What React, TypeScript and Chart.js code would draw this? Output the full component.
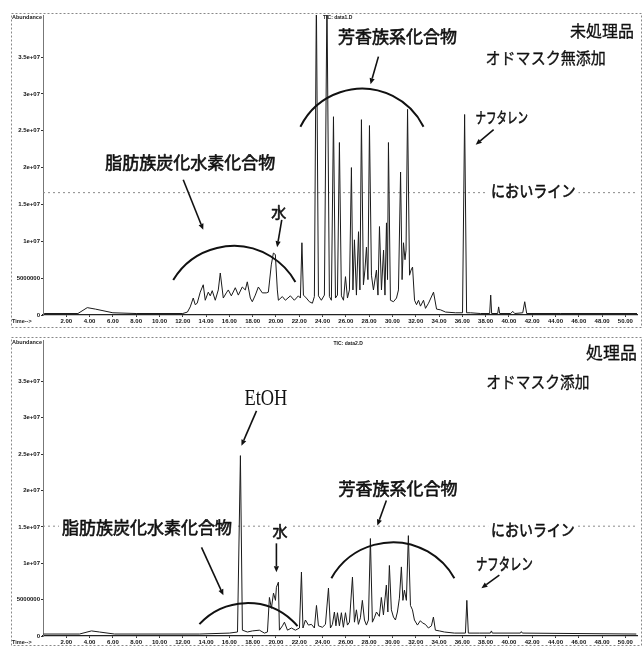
import React, { useEffect, useRef } from 'react';
import { Chart, registerables } from 'chart.js';
Chart.register(...registerables);

// ---------- data (retention time in min, abundance in millions) ----------
const TOP_TIME = [
  0.1, 3.0, 3.8, 4.5, 6.0, 8.0, 12.0, 12.4, 12.64, 12.9, 13.07, 13.24, 13.5, 13.76, 13.93, 14.19, 14.36, 14.53,
  14.79, 15.05, 15.22, 15.48, 15.74, 15.91, 16.17, 16.51, 16.77, 17.11, 17.37, 17.54, 17.8, 17.97, 18.23, 18.49,
  18.83, 19.17, 19.35, 19.6, 19.78, 19.95, 20.12, 20.21, 20.55, 20.81, 21.24, 21.58, 21.93, 22.1, 22.23, 22.36,
  22.61, 22.87, 23.13, 23.3, 23.47, 23.65, 23.9, 24.16, 24.38, 24.59, 24.76, 24.94, 25.11, 25.28, 25.45, 25.62,
  25.8, 25.97, 26.14, 26.31, 26.48, 26.61, 26.74, 26.91, 27.09, 27.21, 27.34, 27.51, 27.64, 27.77, 27.9, 28.03,
  28.2, 28.37, 28.63, 28.76, 28.89, 29.06, 29.24, 29.36, 29.49, 29.58, 29.66, 29.83, 30.09, 30.35, 30.52, 30.7,
  30.83, 30.95, 31.08, 31.17, 31.3, 31.47, 31.6, 31.73, 31.9, 32.07, 32.24, 32.41, 32.67, 32.84, 33.1, 33.53,
  33.79, 34.13, 34.56, 35.42, 36.02, 36.2, 36.37, 36.71, 37.57, 38.35, 38.44, 38.52, 39.04, 39.12, 39.21, 40.16,
  40.33, 40.5, 41.19, 41.36, 41.53, 44.46, 51.0,
];
const TOP_ABUND_M = [
  0.2, 0.2, 1.0, 0.8, 0.3, 0.2, 0.2, 0.4, 1.1, 2.3, 1.4, 1.6, 3.1, 4.1, 2.0, 3.1, 2.6, 3.3,
  2.0, 3.4, 5.7, 2.3, 3.0, 3.4, 2.6, 3.7, 2.7, 3.8, 3.4, 4.5, 2.3, 1.8, 2.7, 3.8,
  3.0, 3.0, 3.1, 6.8, 8.4, 8.2, 3.4, 2.0, 2.5, 2.0, 2.6, 2.0, 2.6, 2.3, 9.8, 2.7,
  2.3, 1.8, 1.6, 2.5, 43, 2.6, 2.0, 2.7, 43, 2.5, 2.0, 26.9, 2.3, 2.7, 23.4, 2.6,
  2.0, 5.2, 2.3, 3.4, 20.0, 3.4, 10.2, 2.7, 11.3, 3.4, 26.5, 4.1, 6.1, 9.2, 4.8, 25.7,
  5.4, 3.4, 6.1, 2.7, 12.0, 3.4, 8.8, 2.7, 12.5, 4.8, 23.4, 2.0, 1.8, 2.3, 3.4, 19.4,
  4.8, 9.8, 7.5, 8.8, 27.9, 5.4, 6.1, 6.5, 2.0, 1.4, 2.0, 1.2, 2.0, 0.9, 1.6, 3.1,
  0.8, 0.7, 0.4, 0.3, 0.3, 27.2, 0.3, 0.3, 0.2, 0.2, 2.7, 0.2, 0.2, 1.1, 0.2, 0.2,
  0.5, 0.2, 0.3, 1.8, 0.2, 0.2, 0.2,
];
const BOTTOM_TIME = [
  0.04, 3.13, 4.16, 4.85, 6.14, 13.43, 16.0, 16.7, 16.95, 17.12, 17.55, 17.98, 18.58, 19.01, 19.27, 19.44, 19.61,
  19.79, 19.96, 20.04, 20.21, 20.3, 20.56, 20.73, 20.99, 21.33, 21.67, 22.02, 22.19, 22.32, 22.53, 22.79, 23.05,
  23.3, 23.48, 23.65, 23.99, 24.25, 24.51, 24.68, 24.85, 25.02, 25.15, 25.28, 25.45, 25.62, 25.79, 25.97, 26.14,
  26.31, 26.57, 26.74, 26.91, 27.08, 27.25, 27.42, 27.6, 27.77, 27.94, 28.11, 28.28, 28.45, 28.63, 28.88, 29.05,
  29.23, 29.48, 29.61, 29.74, 29.91, 30.09, 30.26, 30.43, 30.6, 30.77, 30.9, 31.03, 31.2, 31.37, 31.55, 31.72,
  31.89, 32.15, 32.4, 32.58, 32.83, 33.09, 33.35, 33.52, 33.69, 34.03, 34.46, 35.32, 36.27, 36.39, 36.52, 37.47,
  38.41, 38.5, 38.58, 40.99, 41.07, 41.16, 50.94,
];
const BOTTOM_ABUND_M = [
  0.27, 0.27, 0.7, 0.55, 0.27, 0.27, 0.4, 0.55, 24.8, 0.8, 0.55, 0.7, 0.8, 0.4, 0.55, 5.3, 3.8,
  5.9, 4.9, 6.7, 7.4, 0.8, 1.4, 1.9, 0.8, 1.1, 0.8, 1.1, 8.8, 1.1, 2.2, 1.5, 1.6,
  1.1, 4.2, 1.4, 1.2, 1.6, 6.6, 1.1, 1.6, 3.3, 1.4, 3.2, 1.4, 3.2, 1.2, 3.2, 1.5,
  1.9, 8.1, 1.9, 3.6, 1.6, 2.5, 4.9, 2.2, 1.5, 2.2, 13.4, 1.9, 2.5, 3.3, 2.7, 5.3,
  2.9, 7.0, 3.3, 9.7, 3.6, 2.6, 2.2, 3.3, 5.2, 9.5, 4.9, 6.3, 4.9, 13.8, 4.2, 3.6,
  2.2, 1.5, 2.1, 1.8, 1.6, 1.1, 1.4, 2.6, 0.8, 0.7, 0.55, 0.4, 0.4, 4.9, 0.4, 0.4,
  0.4, 0.7, 0.4, 0.4, 0.6, 0.4, 0.27,
];
// odour threshold line ("におい ライン"), millions
const TOP_ODOR_M = 16.6;
const BOTTOM_ODOR_M = 15.1;

const X_MIN = 0;
const X_MAX = 51;
const X_TICKS = [2, 4, 6, 8, 10, 12, 14, 16, 18, 20, 22, 24, 26, 28, 30, 32, 34, 36, 38, 40, 42, 44, 46, 48, 50];
const Y_MAX_M = 40.7;
const Y_TICKS = [0, 5e6, 1e7, 1.5e7, 2e7, 2.5e7, 3e7, 3.5e7];
const Y_TICK_LABELS = ['0', '5000000', '1e+07', '1.5e+07', '2e+07', '2.5e+07', '3e+07', '3.5e+07'];

// ---------- annotations (in data coordinates: min, millions) ----------
const JP = '"Noto Sans CJK JP", "Noto Sans CJK SC", sans-serif';
const SERIF = '"Liberation Serif", "DejaVu Serif", serif';
const SANS = '"Liberation Sans", Arial, sans-serif';

type TextAnn = { text: string; t: number; v: number; size: number; family: string; sx?: number; bg?: boolean; heavy?: number };

const TOP_TEXTS: TextAnn[] = [
  { text: '未処理品', t: 48.0, v: 38.6, size: 16, family: JP, heavy: 0.3 },
  { text: 'オドマスク無添加', t: 43.16, v: 34.85, size: 16, family: JP, sx: 0.94, heavy: 0.3 },
  { text: '芳香族系化合物', t: 30.44, v: 37.84, size: 17, family: JP, heavy: 0.6 },
  { text: 'ナフタレン', t: 39.38, v: 26.83, size: 15, family: JP, sx: 0.7, heavy: 0.6 },
  { text: 'においライン', t: 42.09, v: 16.78, size: 16, family: JP, sx: 0.88, bg: true, heavy: 0.6 },
  { text: '脂肪族炭化水素化合物', t: 12.64, v: 20.65, size: 17, family: JP, heavy: 0.6 },
  { text: '水', t: 20.25, v: 13.93, size: 15, family: JP, heavy: 0.6 },
];
const TOP_ARROWS = [
  [28.8, 35.05, 28.12, 31.3],
  [38.69, 25.14, 37.15, 23.1],
  [12.04, 18.34, 13.76, 11.55],
  [20.5, 12.9, 20.1, 9.2],
];
const TOP_ARCS = [
  [22.1, 25.54, 27.26, 30.7, 32.67, 25.54],
  [11.18, 4.76, 16.34, 9.37, 21.67, 4.48],
];
const BOTTOM_TEXTS: TextAnn[] = [
  { text: '処理品', t: 48.8, v: 39.0, size: 17, family: JP, heavy: 0.3 },
  { text: 'オドマスク添加', t: 42.49, v: 34.87, size: 16, family: JP, sx: 0.92, heavy: 0.3 },
  { text: 'EtOH', t: 19.14, v: 32.54, size: 23, family: SERIF, sx: 0.8 },
  { text: '脂肪族炭化水素化合物', t: 8.93, v: 14.86, size: 17, family: JP, bg: true, heavy: 0.6 },
  { text: '水', t: 20.35, v: 14.45, size: 15, family: JP, bg: true, heavy: 0.6 },
  { text: '芳香族系化合物', t: 30.47, v: 20.34, size: 17, family: JP, heavy: 0.6 },
  { text: 'においライン', t: 42.06, v: 14.59, size: 16, family: JP, sx: 0.87, bg: true, heavy: 0.6 },
  { text: 'ナフタレン', t: 39.61, v: 9.93, size: 16, family: JP, sx: 0.71, heavy: 0.6 },
];
const BOTTOM_ARROWS = [
  [18.33, 30.96, 17.04, 26.17],
  [13.61, 12.19, 15.49, 5.6],
  [20.04, 12.74, 20.04, 8.77],
  [29.48, 18.63, 28.71, 15.2],
  [39.18, 8.36, 37.64, 6.58],
];
const BOTTOM_ARCS = [
  [13.43, 1.64, 17.64, 4.52, 21.85, 1.37],
  [24.76, 7.95, 30.0, 12.88, 35.32, 7.95],
];

type PanelDef = {
  time: number[]; abund: number[]; odor: number; texts: TextAnn[]; arrows: number[][]; arcs: number[][];
  tic: string; ticT: number; ticV: number; height: number; padTop: number; padBottom: number; frameTop: number; frameBottom: number;
};

const PANELS: PanelDef[] = [
  { time: TOP_TIME, abund: TOP_ABUND_M, odor: TOP_ODOR_M, texts: TOP_TEXTS, arrows: TOP_ARROWS, arcs: TOP_ARCS,
    tic: 'TIC: data1.D', ticT: 25.3, ticV: 40.3, height: 330, padTop: 15, padBottom: 5, frameTop: 13.5, frameBottom: 327.5 },
  { time: BOTTOM_TIME, abund: BOTTOM_ABUND_M, odor: BOTTOM_ODOR_M, texts: BOTTOM_TEXTS, arrows: BOTTOM_ARROWS, arcs: BOTTOM_ARCS,
    tic: 'TIC: data2.D', ticT: 26.2, ticV: 40.2, height: 316, padTop: 10, padBottom: 0, frameTop: 7.5, frameBottom: 315.5 },
];

function makeOverlay(p: PanelDef) {
  return {
    id: 'overlay',
    afterDatasetsDraw(chart: any) {
      const { ctx, scales } = chart;
      const X = (t: number) => scales.x.getPixelForValue(t);
      const Y = (v: number) => scales.y.getPixelForValue(v * 1e6);
      ctx.save();
      ctx.strokeStyle = '#111';
      ctx.fillStyle = '#111';
      ctx.setLineDash([]);
      for (const a of p.arcs) {
        const x0 = X(a[0]), y0 = Y(a[1]), x1 = X(a[2]), y1 = Y(a[3]), x2 = X(a[4]), y2 = Y(a[5]);
        const d = 2 * (x0 * (y1 - y2) + x1 * (y2 - y0) + x2 * (y0 - y1));
        const s0 = x0 * x0 + y0 * y0, s1 = x1 * x1 + y1 * y1, s2 = x2 * x2 + y2 * y2;
        const ux = (s0 * (y1 - y2) + s1 * (y2 - y0) + s2 * (y0 - y1)) / d;
        const uy = (s0 * (x2 - x1) + s1 * (x0 - x2) + s2 * (x1 - x0)) / d;
        const r = Math.hypot(x0 - ux, y0 - uy);
        ctx.beginPath();
        ctx.arc(ux, uy, r, Math.atan2(y0 - uy, x0 - ux), Math.atan2(y2 - uy, x2 - ux), false);
        ctx.lineWidth = 2;
        ctx.stroke();
      }
      for (const a of p.arrows) {
        const x0 = X(a[0]), y0 = Y(a[1]), x1 = X(a[2]), y1 = Y(a[3]);
        const ang = Math.atan2(y1 - y0, x1 - x0);
        const hl = 6, hw = 2.6;
        const bx = x1 - hl * Math.cos(ang), by = y1 - hl * Math.sin(ang);
        ctx.beginPath();
        ctx.moveTo(x0, y0);
        ctx.lineTo(bx, by);
        ctx.lineWidth = 1.6;
        ctx.stroke();
        ctx.beginPath();
        ctx.moveTo(x1, y1);
        ctx.lineTo(bx + hw * Math.sin(ang), by - hw * Math.cos(ang));
        ctx.lineTo(bx - hw * Math.sin(ang), by + hw * Math.cos(ang));
        ctx.closePath();
        ctx.fill();
      }
      ctx.textAlign = 'center';
      ctx.textBaseline = 'middle';
      for (const tx of p.texts) {
        const px = X(tx.t), py = Y(tx.v);
        const sx = tx.sx ?? 1;
        ctx.font = `normal ${tx.size}px ${tx.family}`;
        if (tx.bg) {
          const w = ctx.measureText(tx.text).width * sx;
          ctx.fillStyle = '#fff';
          ctx.fillRect(px - w / 2 - 3, py - tx.size / 2 - 1, w + 6, tx.size + 2);
        }
        ctx.fillStyle = '#111';
        ctx.strokeStyle = '#111';
        ctx.save();
        ctx.translate(px, py);
        ctx.scale(sx, 1);
        ctx.fillText(tx.text, 0, 0);
        if (tx.heavy) {
          ctx.lineWidth = tx.heavy;
          ctx.lineJoin = 'round';
          ctx.strokeText(tx.text, 0, 0);
        }
        ctx.restore();
      }
      ctx.font = `bold 5px ${SANS}`;
      ctx.fillStyle = '#222';
      ctx.fillText(p.tic, X(p.ticT), Y(p.ticV));
      ctx.restore();
    },
    afterDraw(chart: any) {
      const { ctx, chartArea: ca, width } = chart;
      ctx.save();
      ctx.strokeStyle = '#888';
      ctx.lineWidth = 1;
      ctx.setLineDash([2, 2]);
      ctx.strokeRect(11.5, p.frameTop, width - 13, p.frameBottom - p.frameTop);
      ctx.setLineDash([]);
      ctx.fillStyle = '#222';
      ctx.font = `bold 5.5px ${SANS}`;
      ctx.textAlign = 'left';
      ctx.textBaseline = 'middle';
      ctx.fillText('Abundance', 12, ca.top + 2);
      ctx.fillText('Time-->', 12, ca.bottom + 6);
      ctx.restore();
    },
  };
}

function Panel({ p }: { p: PanelDef }) {
  const ref = useRef<HTMLCanvasElement | null>(null);
  useEffect(() => {
    if (!ref.current) return;
    const chromatogram = p.time.map((t, i) => ({ x: t, y: p.abund[i] * 1e6 }));
    const odor = [{ x: X_MIN, y: p.odor * 1e6 }, { x: X_MAX, y: p.odor * 1e6 }];
    const chart = new Chart(ref.current, {
      type: 'line',
      data: {
        datasets: [
          { data: chromatogram, borderColor: '#1a1a1a', borderWidth: 1, pointRadius: 0, tension: 0, order: 0 },
          { data: odor, borderColor: '#8a8a8a', borderWidth: 1, borderDash: [2, 3], pointRadius: 0, order: 1 },
        ],
      },
      options: {
        animation: false,
        responsive: false,
        devicePixelRatio: 1,
        layout: { padding: { left: 10, right: 6, top: p.padTop, bottom: p.padBottom } },
        plugins: { legend: { display: false }, tooltip: { enabled: false } },
        scales: {
          x: {
            type: 'linear', min: X_MIN, max: X_MAX,
            afterFit: (s: any) => { s.height = 10; },
            afterBuildTicks: (s: any) => { s.ticks = X_TICKS.map((v) => ({ value: v })); },
            ticks: { autoSkip: false, maxRotation: 0, padding: 1, color: '#111',
              font: { family: SANS, size: 6, weight: 'bold' }, callback: (v: any) => Number(v).toFixed(2) },
            grid: { display: true, drawOnChartArea: false, tickLength: 2, color: '#333' },
            border: { display: true, color: '#222', width: 1.3 },
          },
          y: {
            min: 0, max: Y_MAX_M * 1e6,
            afterFit: (s: any) => { s.width = 33; },
            afterBuildTicks: (s: any) => { s.ticks = Y_TICKS.map((v) => ({ value: v })); },
            ticks: { autoSkip: false, padding: 1, color: '#111', font: { family: SANS, size: 6, weight: 'bold' },
              callback: (v: any) => { const i = Y_TICKS.indexOf(Number(v)); return i >= 0 ? Y_TICK_LABELS[i] : ''; } },
            grid: { display: true, drawOnChartArea: false, tickLength: 2, color: '#333' },
            border: { display: true, color: '#777', width: 1, dash: [1, 2] },
          },
        },
      },
      plugins: [makeOverlay(p)],
    } as any);
    return () => chart.destroy();
  }, [p]);
  return <canvas ref={ref} width={643} height={p.height} style={{ display: 'block', width: 643, height: p.height }} />;
}

export default function App() {
  useEffect(() => {
    document.body.style.margin = '0';
    document.body.style.background = '#fff';
  }, []);
  return (
    <div style={{ width: 643, height: 646, background: '#fff', overflow: 'hidden' }}>
      <Panel p={PANELS[0]} />
      <Panel p={PANELS[1]} />
    </div>
  );
}
